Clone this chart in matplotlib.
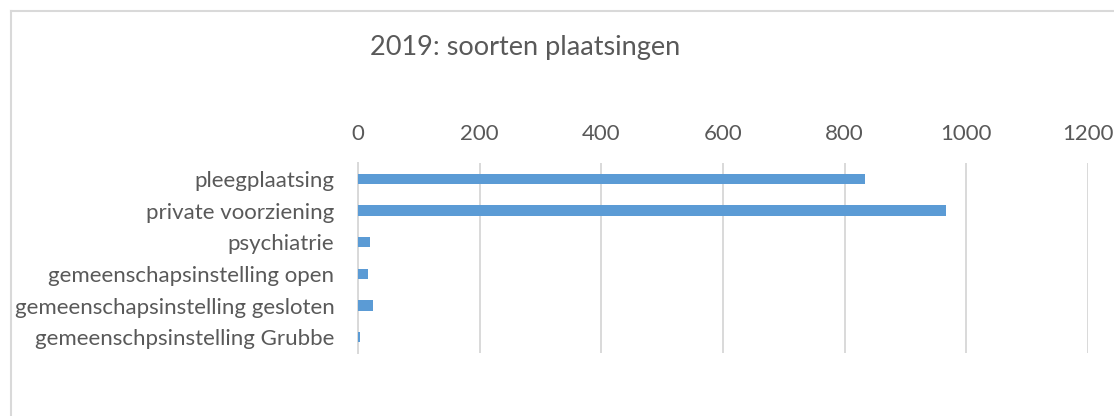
import matplotlib
matplotlib.use("Agg")
import matplotlib.pyplot as plt
from matplotlib.lines import Line2D

# data
categories = [
    "pleegplaatsing",
    "private voorziening",
    "psychiatrie",
    "gemeenschapsinstelling open",
    "gemeenschapsinstelling gesloten",
    "gemeenschpsinstelling Grubbe",
]
values = [833, 967, 20, 17, 24, 3]
x_ticks = [0, 200, 400, 600, 800, 1000, 1200]

plt.rcParams['font.family'] = ['Lato', 'DejaVu Sans']
text_color = "#595959"
grid_color = "#d9d9d9"
bar_color = "#5b9bd5"

W, H = 1114, 416
fig = plt.figure(figsize=(W / 100, H / 100), dpi=100)
ax = fig.add_axes([358 / W, 1 - 353 / H, (1088 - 358) / W, (353 - 163) / H])

ypos = list(range(len(categories)))
ax.barh(ypos, values, height=0.32, color=bar_color, zorder=3)

ax.set_ylim(len(categories) - 0.5, -0.5)
ax.set_xlim(0, 1200)
ax.set_xticks(x_ticks)
ax.set_xticklabels([str(t) for t in x_ticks])
ax.set_yticks(ypos)
ax.set_yticklabels(categories)
ax.xaxis.tick_top()
ax.tick_params(axis='x', length=0, pad=13.5, labelsize=16, labelcolor=text_color)
ax.tick_params(axis='y', length=0, pad=17, labelsize=16, labelcolor=text_color)

ax.grid(axis='x', color=grid_color, linewidth=1.4, zorder=0)
for s in ['top', 'right', 'bottom']:
    ax.spines[s].set_visible(False)
ax.spines['left'].set_color(grid_color)
ax.spines['left'].set_linewidth(1.4)

fig.text(525 / W, 1 - 48 / H, "2019: soorten plaatsingen", ha='center', va='center',
         fontsize=19.5, color=text_color)

# chart border (only top and left visible in the crop)
fig.add_artist(Line2D([10.5 / W, 10.5 / W], [0, 1 - 11 / H], transform=fig.transFigure,
                      color=grid_color, linewidth=1.5))
fig.add_artist(Line2D([10.5 / W, 1], [1 - 11 / H, 1 - 11 / H], transform=fig.transFigure,
                      color=grid_color, linewidth=1.5))

fig.savefig("out.png", dpi=100)
